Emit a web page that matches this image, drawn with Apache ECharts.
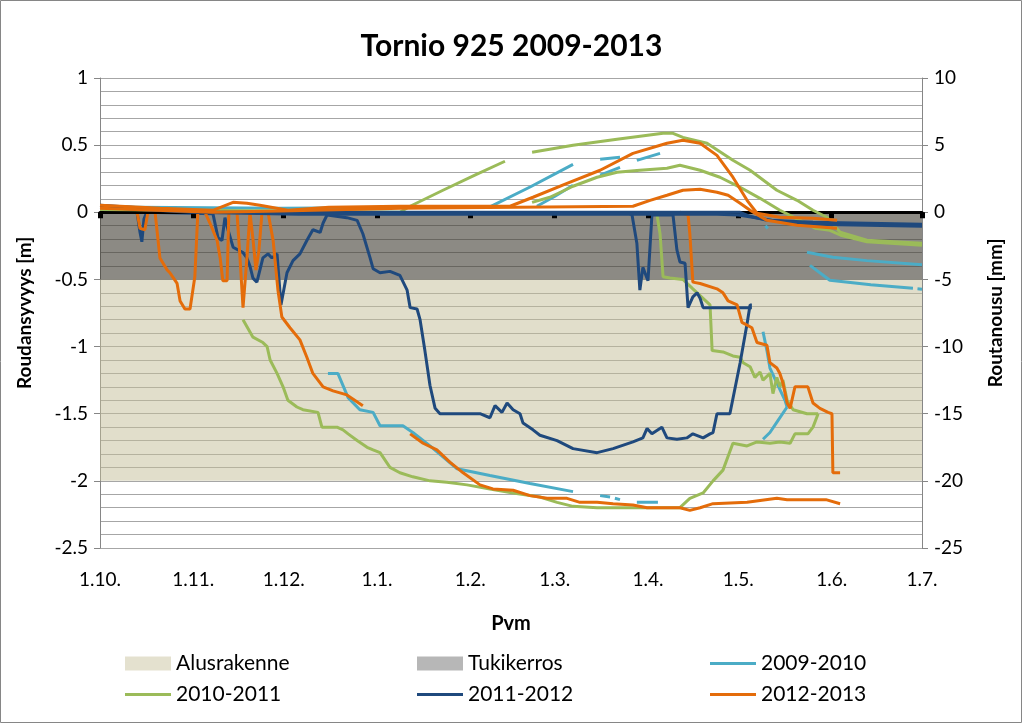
<!DOCTYPE html>
<html><head><meta charset="utf-8">
<script src="https://cdn.jsdelivr.net/npm/echarts@6/dist/echarts.min.js"></script>
<style>html,body{margin:0;padding:0;background:#fff}#c{width:1023px;height:724px}</style>
</head><body><div id="c"></div>
<script>
// x values: days since 1 October (season-aligned)
const monthDays = [0,31,61,92,123,151,182,212,243,273];
const monthLabels = ['1.10.','1.11.','1.12.','1.1.','1.2.','1.3.','1.4.','1.5.','1.6.','1.7.'];
const seasonNames = ['2009-2010','2010-2011','2011-2012','2012-2013'];
const bandNames = ['Alusrakenne','Tukikerros'];
const bandRanges = [[-0.5,-2],[0,-0.5]]; // m

// Frost depth (m), left axis. Each inner array is one unbroken stretch.
const depth0910 = [
 [[75.7,-1.2],[79,-1.2],[82.4,-1.38],[86.3,-1.47],[90.7,-1.49],[93,-1.59],[98.6,-1.59],[100.6,-1.59],[103.9,-1.64],[109.6,-1.74],[118.6,-1.91],[129.5,-1.96],[142.8,-2.02],[157.1,-2.08]],
 [[166.1,-2.11],[169.4,-2.12]],
 [[171,-2.13],[172.7,-2.14]],
 [[178.3,-2.16],[185.3,-2.16]],
 [[220.2,-0.89],[221.5,-1.03],[222.5,-1.16],[225.2,-1.29],[227.5,-1.4],[228.2,-1.45]],
 [[220.2,-1.69],[222.5,-1.64],[225.2,-1.55],[228.2,-1.45]]
];
const depth1011 = [
 [[47.5,-0.8],[50.8,-0.93],[54.1,-0.97],[55.5,-1.0],[56.5,-1.1],[58.8,-1.2],[60.8,-1.3],[62.4,-1.4],[65.4,-1.45],[67.4,-1.47],[72.4,-1.49],[73.7,-1.6],[78.7,-1.6],[80.7,-1.62],[82.4,-1.65],[85.4,-1.7],[88.7,-1.75],[90.7,-1.77],[93,-1.79],[96.3,-1.9],[99.6,-1.94],[103.9,-1.97],[109.6,-2.0],[115.2,-2.01],[121.9,-2.03],[129.5,-2.06],[137.2,-2.09],[146.1,-2.12],[151.8,-2.16],[157.1,-2.19],[165.1,-2.2],[176,-2.2],[181.7,-2.2],[190.3,-2.2],[192.6,-2.2],[195.9,-2.13],[200.3,-2.09],[203.6,-2.0],[206.9,-1.92],[210.2,-1.72],[214.9,-1.74],[218.2,-1.71],[222.5,-1.72],[225.8,-1.71],[229.2,-1.72],[230.8,-1.65],[235.1,-1.65],[236.8,-1.6],[238.5,-1.5]],
 [[182.7,0],[185,-0.02],[186,-0.16],[187,-0.48],[189.3,-0.49],[193.6,-0.5],[196.9,-0.57],[202.6,-0.69],[203.3,-1.03],[206.9,-1.04],[210.2,-1.07],[212.6,-1.08],[213.6,-1.12],[215.9,-1.15],[217.5,-1.23],[219.2,-1.19],[220.2,-1.25],[222.5,-1.2],[223.5,-1.35],[224.8,-1.23],[225.8,-1.3],[226.8,-1.25],[228.2,-1.4],[230.2,-1.47],[234.8,-1.5],[238.5,-1.5]]
];
const depth1112 = [
 [[0,0],[12.3,0],[13.3,-0.15],[13.9,-0.22],[14.6,-0.05],[15.5,0],[37.5,-0.01],[39.2,-0.19],[40.5,-0.21],[41.5,-0.04],[42.5,-0.13],[44.2,-0.26],[47.5,-0.3],[48.8,-0.34],[49.8,-0.4],[50.8,-0.49],[52.1,-0.52],[53.1,-0.43],[54.1,-0.34],[55.8,-0.31],[57.1,-0.34],[58.8,-0.31],[60.1,-0.69],[62.1,-0.45],[64.1,-0.36],[66.4,-0.31],[68.7,-0.21],[70.7,-0.13],[73.1,-0.15],[74.1,-0.08],[75.4,-0.02],[82,-0.04],[85.4,-0.06],[87.3,-0.16],[89.7,-0.34],[90.7,-0.42],[93,-0.45],[96.3,-0.44],[99.6,-0.47],[102,-0.58],[103,-0.71],[105.3,-0.72],[106.3,-0.8],[107.9,-1.03],[109.6,-1.29],[111.3,-1.46],[112.9,-1.5],[119.6,-1.5],[126.2,-1.5],[129.5,-1.53],[131.2,-1.44],[133.5,-1.49],[135.2,-1.42],[137.2,-1.47],[139.5,-1.5],[140.5,-1.57],[143.8,-1.62],[146.1,-1.66],[151.8,-1.7],[157.1,-1.76],[165.1,-1.79],[170.4,-1.76],[177,-1.71],[180.3,-1.68],[181.7,-1.61],[183.3,-1.65],[186.6,-1.6],[188.3,-1.68],[191.6,-1.69],[194.9,-1.68],[196.9,-1.65],[200.3,-1.68],[202.6,-1.65],[203.6,-1.64],[204.9,-1.5],[209.2,-1.5],[212.6,-1.12],[214.9,-0.83],[215.9,-0.69],[216.5,-0.69]],
 [[175,0],[176.7,-0.02],[178.3,-0.23],[179.3,-0.58],[180.3,-0.41],[182,-0.51],[183.3,-0.02],[190.3,-0.02],[191.6,-0.28],[192.6,-0.37],[194.3,-0.38],[195.3,-0.71],[196.9,-0.63],[198.3,-0.6],[199.3,-0.64],[200.3,-0.71],[216.5,-0.71]]
];
const depth1213 = [
 [[0,0],[12.3,0],[13.3,-0.12],[14.9,-0.13],[15.9,0],[18.3,0],[19.9,-0.34],[22.3,-0.43],[23.2,-0.45],[25.6,-0.53],[26.6,-0.66],[28.2,-0.72],[29.9,-0.72],[31.5,-0.48],[32.5,0],[34.9,0],[36.5,-0.08],[38.9,-0.21],[39.9,-0.34],[40.8,-0.51],[42.2,-0.51],[42.8,0],[45.5,0],[46.5,-0.34],[47.5,-0.71],[48.8,-0.34],[49.8,0],[50.8,-0.2],[51.8,-0.43],[52.8,-0.28],[53.8,0],[55.8,0],[57.5,-0.21],[59.1,-0.58],[60.4,-0.78],[63.1,-0.86],[66.4,-0.95],[68.7,-1.08],[70.7,-1.2],[74.1,-1.3],[77.4,-1.33],[82,-1.36],[87.3,-1.44]],
 [[103,-1.65],[107.3,-1.72],[111.9,-1.77],[116.2,-1.86],[120.6,-1.94],[126.2,-2.03],[130.5,-2.06],[137.2,-2.07],[142.8,-2.11],[148.5,-2.13],[155.1,-2.13],[159.4,-2.16],[165.1,-2.16],[170.4,-2.17],[177,-2.18],[181.7,-2.2],[186.6,-2.2],[192.6,-2.2],[195.9,-2.22],[199.3,-2.2],[203.6,-2.17],[214.9,-2.16],[224.8,-2.13],[228.2,-2.14],[236.8,-2.14],[241.1,-2.14],[245.8,-2.17]],
 [[192.6,0],[195.3,-0.02],[195.9,-0.16],[196.9,-0.52],[199.3,-0.53],[204.9,-0.57],[206.9,-0.6],[208.6,-0.66],[211.6,-0.69],[213.2,-0.82],[216.5,-0.86],[218.2,-0.97],[221.5,-0.99],[222.5,-1.12],[224.8,-1.16],[225.8,-1.2],[226.8,-1.27],[228.2,-1.42],[229.2,-1.46],[230.8,-1.3],[235.1,-1.3],[236.8,-1.42],[239.1,-1.46],[241.8,-1.49],[243.1,-1.5],[243.4,-1.94],[245.8,-1.94]]
];

// Frost heave (mm), right axis.
const heave0910 = [
 [[0,0.4],[60,0.3],[129.5,0.4],[143,1.9],[157.1,3.57]],
 [[166.1,3.95],[172.7,4.1]],
 [[145.1,0.45],[151.1,1.19],[157.1,2.01]],
 [[166.1,2.76],[172.7,3.35]],
 [[178.3,3.87],[186,4.39]],
 [[221,-1.0],[221.8,-1.2]],
 [[234.8,-2.98],[243.4,-3.35],[254.7,-3.6],[273,-3.9]],
 [[235.8,-3.95],[242.4,-5.06],[256,-5.4],[270,-5.66]],
 [[271.5,-5.7],[273,-5.73]]
];
const heave1011 = [
 [[0,0.2],[60,0.1],[99.6,0],[103,0.45],[113.9,1.64],[124.5,2.76],[134.5,3.8]],
 [[143.5,4.47],[157.1,4.99],[171.7,5.44],[187,5.88],[190.3,5.88],[193.6,5.58],[201.6,5.14],[210.2,3.87],[215.9,3.13],[224.8,1.64],[231.5,0.89],[236.8,0.15],[241.4,-0.37],[245.8,-1.49],[254.7,-2.08],[273,-2.31]],
 [[143.5,0.74],[149.4,1.12],[157.1,1.94],[165.1,2.61],[171.7,2.98],[179.3,3.13],[188.3,3.28],[192.6,3.5],[199.3,3.13],[205.9,2.61],[212.6,1.86],[219.2,1.04],[225.8,0.15],[232.5,-0.6],[237.5,-1.19],[242.4,-1.34],[246,-1.71],[254.7,-2.2],[273,-2.46]]
];
const heave1112 = [
 [[0,0.52],[30,0.1],[37.5,0],[212.6,0],[215.9,-0.3],[221.5,-0.6],[236.8,-0.74],[273,-0.89]],
 [[0,0.37],[30,0],[66,-0.15],[205,-0.15],[212,-0.2],[223,-0.6],[236.8,-0.89],[273,-1.04]]
];
const heave1213 = [
 [[0,0.52],[20,0.3],[37.5,0.15],[44.2,0.74],[48.8,0.67],[53.1,0.52],[62.4,0.15],[76,0.37],[99.6,0.45],[136.2,0.45],[143.8,1.12],[155.1,2.16],[166.1,3.13],[177,4.39],[188.3,5.14],[193.6,5.36],[199.3,5.14],[204.9,4.24],[210.2,2.61],[214.9,0.89],[218.2,-0.07],[225.8,-0.37],[236.8,-0.45],[244.8,-0.6]],
 [[0,0.3],[37.5,0],[60,0.1],[100,0.3],[177,0.45],[182.7,0.89],[188.3,1.27],[193.6,1.64],[199.3,1.71],[204.9,1.49],[208.6,1.27],[212.6,0.67],[215.9,0.15],[221.5,-0.6],[231.5,-0.97],[244.8,-1.19]]
];

const seasonColors = ['#4bacc6','#9bbb59','#1f497d','#e46c0a'];
const bandFill = ['rgba(196,189,151,0.5)','rgba(64,60,50,0.6)'];
const bandLegend = ['#ddd9c3','#a5a5a5'];
const FONT = "Lato, 'Open Sans', sans-serif";
const LINE_ICON = 'path://M0 0H46V3H0Z';

const series = [];
bandNames.forEach((n,i)=>{
  series.push({type:'scatter', name:n, data:[], z:1, silent:true,
    itemStyle:{color:bandLegend[i]},
    markArea:{silent:true, itemStyle:{color:bandFill[i]},
      data:[[{xAxis:0, yAxis:bandRanges[i][0]},{xAxis:273, yAxis:bandRanges[i][1]}]]}});
});
function addSegs(name, color, segs, yIdx, z){
  segs.forEach(s=>series.push({type:'line', name, data:s, xAxisIndex:0, yAxisIndex:yIdx,
    symbol:'none', showSymbol:false, silent:true, z, lineStyle:{color, width:3}, itemStyle:{color}}));
}
const depths = [depth0910, depth1011, depth1112, depth1213];
const heaves = [heave0910, heave1011, heave1112, heave1213];
depths.forEach((d,i)=>addSegs(seasonNames[i], seasonColors[i], d, 0, 2));
heaves.forEach((h,i)=>addSegs(seasonNames[i], seasonColors[i], h, 1, 4));

const legendBase = {orient:'vertical', top:648, itemWidth:46, itemHeight:14, itemGap:10, selectedMode:false,
  textStyle:{fontFamily:FONT, fontSize:21, color:'#000', lineHeight:20}};
const chart = echarts.init(document.getElementById('c'), null, {renderer:'canvas'});
chart.setOption({
  animation:false,
  backgroundColor:'#fff',
  title:{text:'Tornio 925 2009-2013', left:'center', top:26,
    textStyle:{fontFamily:FONT, fontSize:30, fontWeight:'bold', color:'#000'}},
  grid:{left:100, right:101, top:78, bottom:176},
  legend:[
    Object.assign({}, legendBase, {left:120, data:[{name:bandNames[0],icon:'rect'},{name:seasonNames[1],icon:LINE_ICON}]}),
    Object.assign({}, legendBase, {left:412, data:[{name:bandNames[1],icon:'rect'},{name:seasonNames[2],icon:LINE_ICON}]}),
    Object.assign({}, legendBase, {left:705, data:[{name:seasonNames[0],icon:LINE_ICON},{name:seasonNames[3],icon:LINE_ICON}]})
  ],
  xAxis:[
    {type:'value', min:0, max:273, position:'bottom',
     axisLine:{show:false, onZero:false}, axisTick:{show:false}, splitLine:{show:false},
     name:'Pvm', nameLocation:'middle', nameGap:66,
     nameTextStyle:{fontFamily:FONT, fontSize:20, fontWeight:'bold', color:'#000'},
     axisLabel:{customValues:monthDays, margin:22, fontFamily:FONT, fontSize:19, color:'#000',
       formatter:v=>monthLabels[monthDays.indexOf(Math.round(v))]}},
    {type:'value', min:0, max:273, position:'bottom', z:3,
     axisLine:{show:true, onZero:true, onZeroAxisIndex:0, lineStyle:{color:'#000', width:3}},
     axisTick:{show:true, customValues:monthDays, length:6, lineStyle:{color:'#000', width:5}},
     axisLabel:{show:false}, splitLine:{show:false}}
  ],
  yAxis:[
    {type:'value', min:-2.5, max:1, interval:0.5, position:'left',
     name:'Roudansyvyys [m]', nameLocation:'middle', nameRotate:90, nameGap:66,
     nameTextStyle:{fontFamily:FONT, fontSize:19, fontWeight:'bold', color:'#000'},
     axisLine:{show:true, onZero:false, lineStyle:{color:'#868686', width:1}},
     axisTick:{show:true, length:6, lineStyle:{color:'#868686'}},
     axisLabel:{fontFamily:FONT, fontSize:19, color:'#000', margin:12},
     splitLine:{show:true, lineStyle:{color:'#a6a6a6', width:1}},
     minorTick:{show:false, splitNumber:5},
     minorSplitLine:{show:true, lineStyle:{color:'#a6a6a6', width:1}}},
    {type:'value', min:-25, max:10, interval:5, position:'right',
     name:'Routanousu [mm]', nameLocation:'middle', nameRotate:90, nameGap:64,
     nameTextStyle:{fontFamily:FONT, fontSize:19, fontWeight:'bold', color:'#000'},
     axisLine:{show:true, onZero:false, lineStyle:{color:'#868686', width:1}},
     axisTick:{show:true, length:6, lineStyle:{color:'#868686'}},
     axisLabel:{fontFamily:FONT, fontSize:19, color:'#000', margin:12},
     splitLine:{show:false}}
  ],
  graphic:[{type:'rect', shape:{x:0.5, y:0.5, width:1021, height:722},
    style:{fill:null, stroke:'#868686', lineWidth:1}, silent:true, z:100}],
  series
});
</script></body></html>
